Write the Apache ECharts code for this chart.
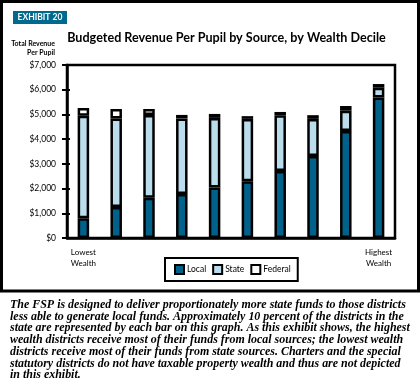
<!DOCTYPE html>
<html><head><meta charset="utf-8">
<script src="https://cdn.jsdelivr.net/npm/echarts@6/dist/echarts.min.js"></script>
<style>html,body{margin:0;padding:0;background:#fff}#c{width:420px;height:382px}</style>
</head><body><div id="c"></div>
<script>
const deciles = ['1','2','3','4','5','6','7','8','9','10'];
const tickLabels = ['Lowest\nWealth','','','','','','','','','Highest\nWealth'];
const localVals = [800,1250,1630,1780,2040,2300,2710,3320,4330,5690];
const stateVals = [4150,3590,3350,3060,2820,2520,2260,1500,820,390];
const federalVals = [310,380,240,140,160,110,130,150,190,150];
const paragraph = [
 'The FSP is designed to deliver proportionately more state funds to those districts',
 'less able to generate local funds. Approximately 10 percent of the districts in the',
 'state are represented by each bar on this graph. As this exhibit shows, the highest',
 'wealth districts receive most of their funds from local sources; the lowest wealth',
 'districts receive most of their funds from state sources. Charters and the special',
 'statutory districts do not have taxable property wealth and thus are not depicted',
 'in this exhibit.'
];
const LOCAL='#00628b', STATE='#badcec', FED='#ffffff';
const sans='Lato, "Open Sans", sans-serif';
const serifFam='"Liberation Serif", "DejaVu Serif", serif';
// fit paragraph font so first line spans ~396px
const ctx=document.createElement('canvas').getContext('2d');
ctx.font='italic bold 11px '+serifFam;
const w11=ctx.measureText(paragraph[0]).width;
const pSize=Math.min(12,11*396/w11);
const chart = echarts.init(document.getElementById('c'));
const barStyle = c => ({color:c,borderColor:'#000',borderWidth:2.5});
const graphics = [
  {type:'rect',shape:{x:1.5,y:1.5,width:417,height:289.5},style:{fill:null,stroke:'#000',lineWidth:3},silent:true},
  {type:'rect',shape:{x:13,y:11,width:54,height:13},style:{fill:'#006a8e'}},
  {type:'text',x:40,y:17.5,style:{text:'EXHIBIT 20',fill:'#fff',font:'bold 8.5px '+sans,textAlign:'center',textVerticalAlign:'middle'}},
  {type:'text',x:226.5,y:38,style:{text:'Budgeted Revenue Per Pupil by Source, by Wealth Decile',fill:'#000',font:'bold 12.6px '+sans,textAlign:'center',textVerticalAlign:'middle'}},
  {type:'text',x:55,y:44,style:{text:'Total Revenue',fill:'#000',font:'bold 7px '+sans,textAlign:'right',textVerticalAlign:'middle'}},
  {type:'text',x:55,y:52.5,style:{text:'Per Pupil',fill:'#000',font:'bold 7px '+sans,textAlign:'right',textVerticalAlign:'middle'}}
];
paragraph.forEach((t,i)=>graphics.push({type:'text',x:10,y:305+i*11.7,style:{text:t,fill:'#000',font:'italic bold '+pSize.toFixed(2)+'px '+serifFam,textAlign:'left',textVerticalAlign:'middle'}}));
chart.setOption({
  animation:false,
  grid:{left:67,right:25,top:65,bottom:144,show:true,borderColor:'#000',borderWidth:2.5,backgroundColor:'transparent'},
  legend:{left:165,top:258,padding:[6,7,6,9],borderColor:'#000',borderWidth:2,itemWidth:9,itemHeight:9,itemGap:6,
    textStyle:{fontFamily:sans,fontSize:8.5,color:'#000',padding:[0,0,0,-2]},
    data:[{name:'Local',icon:'rect'},{name:'State',icon:'rect'},{name:'Federal',icon:'rect'}]},
  xAxis:[
    {type:'category',data:deciles,position:'bottom',
     axisLine:{lineStyle:{color:'#000',width:2.5}},
     axisTick:{length:6,lineStyle:{color:'#000',width:2}},
     axisLabel:{interval:0,margin:9,fontFamily:sans,fontSize:8,color:'#000',lineHeight:11,formatter:(v,i)=>tickLabels[i]}},
    {type:'category',data:deciles,position:'bottom',axisLine:{show:false},axisLabel:{show:false},
     axisTick:{inside:true,length:3,lineStyle:{color:'#000',width:2}}}
  ],
  yAxis:[
    {type:'value',min:0,max:7000,interval:1000,position:'left',splitLine:{show:false},
     axisLine:{show:true,lineStyle:{color:'#000',width:2.5}},
     axisTick:{show:true,length:5,lineStyle:{color:'#000',width:2}},
     axisLabel:{margin:11,fontFamily:sans,fontSize:8.5,color:'#000',
       formatter:v=>'$'+v.toLocaleString('en-US')}},
    {type:'value',min:0,max:7000,interval:1000,position:'left',splitLine:{show:false},
     axisLine:{show:false},axisLabel:{show:false},
     axisTick:{show:true,inside:true,length:3,lineStyle:{color:'#000',width:2}}}
  ],
  series:[
    {name:'Local',type:'bar',stack:'t',barWidth:11.5,data:localVals,itemStyle:barStyle(LOCAL)},
    {name:'State',type:'bar',stack:'t',barWidth:11.5,data:stateVals,itemStyle:barStyle(STATE)},
    {name:'Federal',type:'bar',stack:'t',barWidth:11.5,data:federalVals,itemStyle:barStyle(FED)}
  ],
  graphic:graphics
});
</script></body></html>
